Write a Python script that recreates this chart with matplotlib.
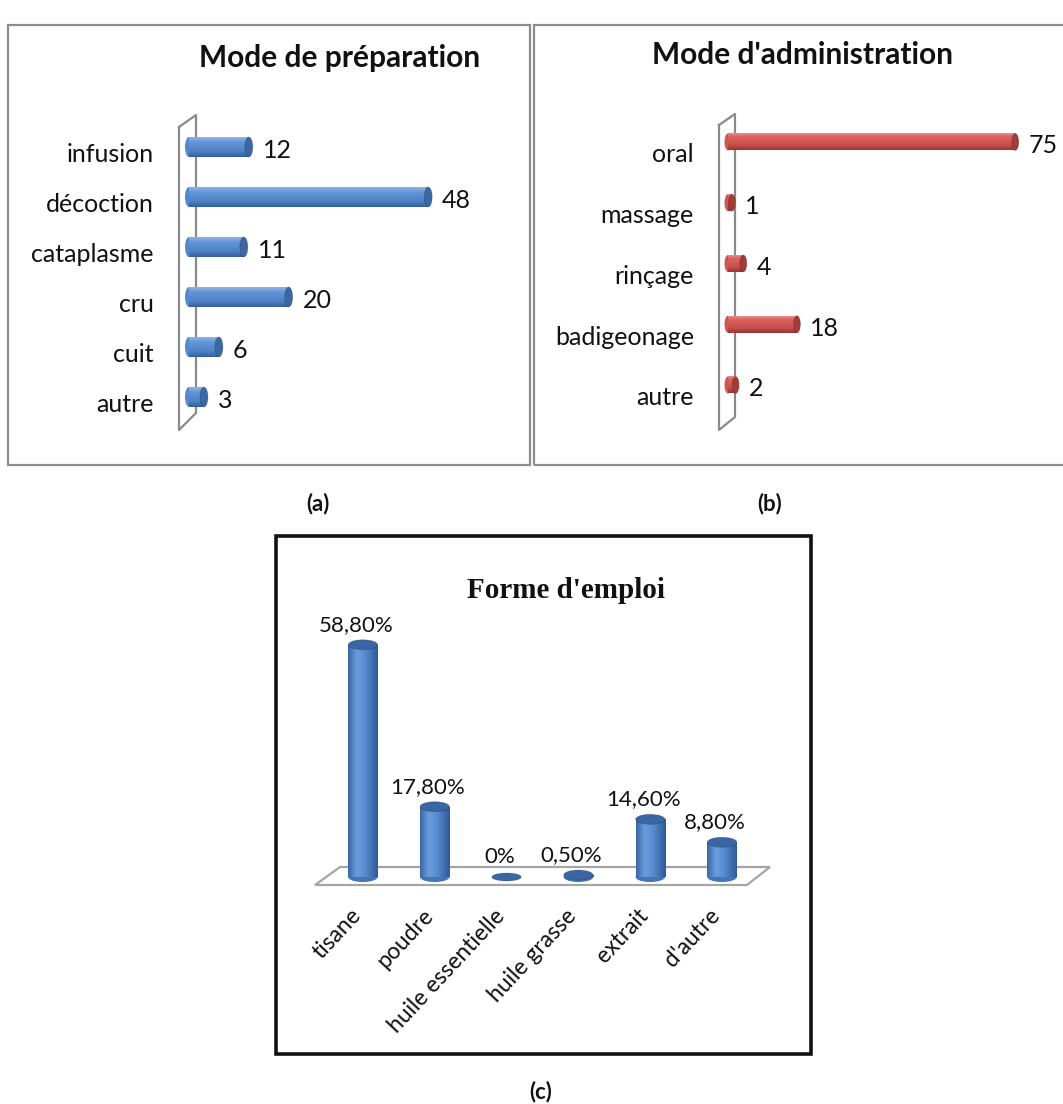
import numpy as np
import matplotlib
matplotlib.use("Agg")
import matplotlib.pyplot as plt
from matplotlib.patches import Ellipse, Rectangle, Polygon
from matplotlib.colors import LinearSegmentedColormap
from matplotlib.lines import Line2D

# ---- data ----
prep_categories = ["infusion", "décoction", "cataplasme", "cru", "cuit", "autre"]
prep_values = [12, 48, 11, 20, 6, 3]

admin_categories = ["oral", "massage", "rinçage", "badigeonage", "autre"]
admin_values = [75, 1, 4, 18, 2]

form_categories = ["tisane", "poudre", "huile essentielle", "huile grasse", "extrait", "d'autre"]
form_values = [58.8, 17.8, 0.0, 0.5, 14.6, 8.8]

# ---- figure in pixel units ----
W, H = 1063, 1104
DPI = 100
fig = plt.figure(figsize=(W / DPI, H / DPI), dpi=DPI)
fig.patch.set_facecolor("white")

SANS = ["Lato", "DejaVu Sans"]
SERIF = ["Liberation Serif", "DejaVu Serif"]


def fx(x):
    return x / W


def fy(y):
    return 1 - y / H


def px_axes(left, top, width, height):
    ax = fig.add_axes([left / W, 1 - (top + height) / H, width / W, height / H])
    ax.set_facecolor("none")
    ax.axis("off")
    ax.set_autoscale_on(False)
    return ax


def fig_line(xs, ys, color="#8a8a8a", lw=1.6, z=-1):
    fig.add_artist(Line2D([fx(x) for x in xs], [fy(y) for y in ys],
                          transform=fig.transFigure, color=color, lw=lw, zorder=z))


def fig_rect(x0, y0, x1, y1, color, lw):
    fig.add_artist(Rectangle((fx(x0), fy(y1)), fx(x1) - fx(x0), fy(y0) - fy(y1),
                             transform=fig.transFigure, fill=False,
                             edgecolor=color, lw=lw, zorder=5))


blue_h = LinearSegmentedColormap.from_list(
    "blue_h", [(0, "#8fb4e3"), (0.25, "#6396d8"), (0.7, "#4f82c4"), (1, "#33609c")])
red_h = LinearSegmentedColormap.from_list(
    "red_h", [(0, "#ec9a97"), (0.25, "#db625e"), (0.7, "#c9514d"), (1, "#973633")])
blue_v = LinearSegmentedColormap.from_list(
    "blue_v", [(0, "#3a68a6"), (0.3, "#6b9ddd"), (0.55, "#5a8dd1"), (1, "#2f5b97")])


def px_per_unit(ax):
    p0 = ax.transData.transform((0, 0))
    p1 = ax.transData.transform((1, 1))
    return abs(p1[0] - p0[0]), abs(p1[1] - p0[1])


def horizontal_cylinders(ax, values, height, cmap, cap_color, cap_px, label_gap, label_dy, fs):
    sx, _ = px_per_unit(ax)
    cw = cap_px / sx
    grad = np.linspace(0, 1, 64).reshape(-1, 1)
    for i, v in enumerate(values):
        bar = ax.barh(i, v, height=height, color="none", edgecolor="none", zorder=2)[0]
        ax.add_patch(Ellipse((0, i), cw, height, facecolor=cmap(0.55),
                             edgecolor="none", zorder=1.9, clip_on=False))
        im = ax.imshow(grad, extent=(0, v, i - height / 2, i + height / 2), origin="lower",
                       aspect="auto", cmap=cmap, zorder=2, interpolation="bilinear")
        im.set_clip_path(bar)
        ax.add_patch(Ellipse((v, i), cw, height, facecolor=cap_color,
                             edgecolor="#00000030", lw=0.6, zorder=3, clip_on=False))
        ax.annotate(f"{v:g}", xy=(v, i), xytext=(cap_px / 2 + label_gap, -label_dy),
                    textcoords="offset pixels", ha="left", va="center",
                    fontsize=fs, family=SANS, color="#111111", annotation_clip=False)


def category_labels(ax, cats, pad_px, dy_px, fs):
    for i, c in enumerate(cats):
        ax.annotate(c, xy=(0, i), xycoords=("axes fraction", "data"),
                    xytext=(-pad_px, -dy_px), textcoords="offset pixels",
                    ha="right", va="center", fontsize=fs, family=SANS,
                    color="#111111", annotation_clip=False)


# ---- panel frames ----
fig_rect(8, 25, 530, 465, "#8c8c8c", 1.6)
fig_rect(534, 25, 1070, 465, "#8c8c8c", 1.6)
fig_rect(276, 536, 811, 1054, "#111111", 2.6)

# ---- (a) Mode de préparation ----
fig.text(fx(340), fy(58), "Mode de préparation", ha="center", va="center",
         fontsize=21.5, fontweight="bold", family=SANS, color="#111111")
# back wall
fig_line([179, 179, 196, 196, 179], [127, 430, 413, 115, 127])
ax_a = px_axes(189, 122, 299, 300)
ax_a.set_xlim(0, 60)
ax_a.set_ylim(len(prep_values) - 0.5, -0.5)
horizontal_cylinders(ax_a, prep_values, 0.4, blue_h, "#3c67a3", 8, 10, 3, 18)
category_labels(ax_a, prep_categories, 35, 7, 18)

# ---- (b) Mode d'administration ----
fig.text(fx(803), fy(55), "Mode d'administration", ha="center", va="center",
         fontsize=21.5, fontweight="bold", family=SANS, color="#111111")
fig_line([719, 719, 735, 735, 719], [125, 430, 417, 114, 125])
ax_b = px_axes(728, 111.6, 300, 303.75)
ax_b.set_xlim(0, 300 / 3.83)
ax_b.set_ylim(len(admin_values) - 0.5, -0.5)
horizontal_cylinders(ax_b, admin_values, 0.28, red_h, "#a13c39", 7, 10, 4, 18)
category_labels(ax_b, admin_categories, 34, 13, 18)

# ---- (c) Forme d'emploi ----
fig.text(fx(566), fy(591), "Forme d'emploi", ha="center", va="center",
         fontsize=21, fontweight="bold", family=SERIF, color="#111111")
# floor
fig.add_artist(Polygon([(fx(315), fy(885)), (fx(747), fy(885)), (fx(770), fy(867)),
                        (fx(340), fy(867))], closed=True, transform=fig.transFigure,
                       facecolor="white", edgecolor="#a5a5a5", lw=1.6, zorder=-1))
ax_c = px_axes(327, 620, 431, 257)
ax_c.set_xlim(-0.5, len(form_values) - 0.5)
ax_c.set_ylim(0, 257 / 3.95)
sx, sy = px_per_unit(ax_c)
bw = 0.41
cap_h = 10 / sy
grad_v = np.linspace(0, 1, 64).reshape(1, -1)
for i, v in enumerate(form_values):
    if v > 0:
        bar = ax_c.bar(i, v, width=bw, color="none", edgecolor="none", zorder=2)[0]
        ax_c.add_patch(Ellipse((i, 0), bw, cap_h, facecolor="#4474b3",
                               edgecolor="none", zorder=1.9, clip_on=False))
        im = ax_c.imshow(grad_v, extent=(i - bw / 2, i + bw / 2, 0, v), origin="lower",
                         aspect="auto", cmap=blue_v, zorder=2, interpolation="bilinear")
        im.set_clip_path(bar)
    ax_c.add_patch(Ellipse((i, v), bw, cap_h * (1.0 if v > 0 else 0.8),
                           facecolor="#3a66a3", edgecolor="#00000030", lw=0.6,
                           zorder=3, clip_on=False))
    txt = "0%" if v == 0 else f"{v:.2f}".replace(".", ",") + "%"
    ax_c.annotate(txt, xy=(i, v), xytext=(-7, 20), textcoords="offset pixels",
                  ha="center", va="center", fontsize=16, family=SANS,
                  color="#111111", annotation_clip=False)
    ax_c.annotate(form_categories[i], xy=(i, 0), xytext=(-13, -28),
                  textcoords="offset pixels", ha="right", va="top", rotation=47,
                  rotation_mode="anchor", fontsize=16.5, family=SANS,
                  color="#111111", annotation_clip=False)

# ---- panel letters ----
for x, y, s in [(318, 504, "(a)"), (770, 504, "(b)"), (541, 1092, "(c)")]:
    fig.text(fx(x), fy(y), s, ha="center", va="center", fontsize=16,
             fontweight="bold", family=SANS, color="#111111")

fig.savefig("out.png", dpi=DPI, facecolor="white")
